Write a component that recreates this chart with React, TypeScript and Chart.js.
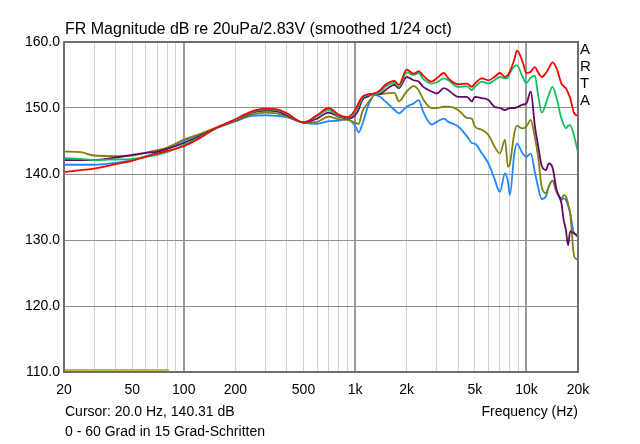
import React, { useEffect, useRef } from "react";
import { Chart, registerables } from "chart.js";

Chart.register(...registerables);

// Frequencies (Hz) shared by all measured curves
const FREQ = [20, 25, 30, 40, 50, 60, 70, 80, 100, 125, 150, 200, 250, 300, 350, 400, 500, 600, 700, 800, 900, 1000, 1050, 1100, 1200, 1300, 1400, 1500, 1700, 1800, 2000, 2200, 2350, 2500, 2800, 3000, 3300, 3500, 4000, 4500, 4800, 5000, 5500, 6000, 6500, 7000, 7500, 7800, 8000, 8500, 8800, 9500, 10000, 10600, 11200, 11700, 12300, 13000, 13500, 14200, 15000, 16000, 16500, 17000, 17500, 18000, 19000, 20000];

// dB values, 0 / 15 / 30 / 45 / 60 degrees
const DEG0 = [140.3, 140.6, 140.8, 141.5, 142.0, 142.6, 143.1, 143.5, 144.2, 145.5, 146.8, 148.3, 149.5, 149.9, 149.8, 149.2, 147.8, 148.9, 150.0, 149.0, 148.6, 149.7, 150.8, 151.7, 152.1, 152.2, 152.7, 153.5, 154.1, 153.5, 155.8, 155.2, 155.6, 154.9, 154.0, 154.5, 155.3, 154.5, 153.6, 153.7, 153.2, 153.7, 154.5, 154.2, 154.7, 155.3, 154.7, 155.0, 155.5, 157.3, 158.7, 157.0, 155.3, 155.5, 156.2, 155.4, 154.7, 155.3, 156.0, 156.9, 156.0, 153.7, 153.3, 153.0, 152.3, 151.5, 149.2, 148.8];
const DEG15 = [142.4, 142.3, 142.1, 142.2, 142.3, 142.6, 142.9, 143.3, 144.4, 145.6, 146.8, 148.2, 149.4, 149.8, 149.7, 149.1, 147.8, 148.8, 149.7, 148.8, 148.5, 149.4, 150.4, 151.5, 152.0, 152.1, 152.4, 153.2, 153.8, 153.2, 155.4, 155.0, 155.3, 154.4, 153.7, 153.9, 154.5, 154.2, 153.2, 153.3, 152.7, 153.2, 154.0, 153.7, 154.2, 154.7, 154.5, 154.6, 155.3, 156.3, 156.5, 154.7, 153.8, 154.6, 154.9, 152.0, 149.3, 150.7, 152.0, 153.2, 151.5, 148.4, 147.5, 146.9, 147.3, 147.4, 145.7, 143.3];
const DEG30 = [142.1, 142.1, 142.1, 142.5, 142.9, 143.2, 143.4, 143.8, 144.7, 145.8, 146.8, 148.1, 149.3, 149.6, 149.5, 148.9, 147.8, 148.4, 149.3, 148.7, 148.4, 148.9, 149.8, 151.2, 151.8, 152.2, 152.1, 152.7, 153.5, 153.0, 154.7, 154.2, 154.0, 153.2, 152.5, 152.2, 153.0, 152.7, 151.7, 151.7, 151.0, 151.7, 151.5, 151.2, 150.2, 150.0, 149.7, 149.9, 150.0, 150.0, 150.1, 150.5, 150.7, 152.5, 147.3, 144.3, 141.2, 140.6, 141.6, 141.0, 137.6, 135.6, 133.0, 131.5, 129.2, 131.3, 131.0, 130.5];
const DEG45 = [143.4, 143.3, 142.8, 142.7, 142.8, 143.2, 143.6, 144.0, 145.2, 146.1, 146.9, 148.0, 149.0, 149.3, 149.2, 148.7, 147.8, 147.9, 148.7, 148.3, 148.2, 147.8, 147.6, 149.4, 150.9, 152.0, 152.1, 152.2, 152.3, 151.0, 152.5, 153.3, 152.7, 151.3, 150.0, 150.0, 150.2, 150.2, 149.7, 148.5, 148.4, 147.2, 146.7, 145.9, 144.2, 143.1, 145.2, 141.1, 141.5, 146.2, 147.3, 146.9, 147.2, 148.2, 145.5, 142.6, 138.0, 137.1, 138.1, 139.0, 137.3, 136.3, 136.8, 136.6, 135.5, 134.1, 127.5, 127.0];
const DEG60 = [141.4, 141.4, 141.4, 141.7, 142.1, 142.7, 143.3, 143.9, 145.0, 146.0, 146.8, 148.0, 148.8, 148.9, 148.8, 148.6, 147.8, 147.6, 148.0, 148.1, 148.3, 147.3, 146.3, 147.5, 150.5, 152.0, 151.7, 151.0, 149.7, 149.2, 150.2, 150.7, 151.2, 149.4, 147.5, 147.9, 148.4, 147.9, 147.2, 145.7, 144.7, 144.6, 143.1, 141.6, 139.3, 137.3, 140.1, 138.9, 136.8, 143.1, 144.6, 143.1, 142.6, 143.1, 140.3, 138.0, 136.2, 136.6, 138.1, 139.0, 137.3, 136.1, 136.3, 136.1, 135.2, 134.1, 131.0, 130.8];

// Cursor marker line at the bottom
const CURSOR_FREQ = [20, 82];
const CURSOR_DB = [110.3, 110.3];

const GRID_TICKS = [20, 30, 40, 50, 60, 70, 80, 90, 100, 200, 300, 400, 500, 600, 700, 800, 900, 1000, 2000, 3000, 4000, 5000, 6000, 7000, 8000, 9000, 10000, 20000];
const X_LABELS: Record<number, string> = { 20: "20", 50: "50", 100: "100", 200: "200", 500: "500", 1000: "1k", 2000: "2k", 5000: "5k", 10000: "10k", 20000: "20k" };
const Y_MIN = 110;
const Y_MAX = 160;

const FONT = "'Liberation Sans', Arial, sans-serif";

const pts = (xs: number[], ys: number[]) => xs.map((x, i) => ({ x, y: ys[i] }));

const textPlugin = {
  id: "artaText",
  afterDraw(chart: any) {
    const ctx = chart.ctx;
    const { left, top, right, bottom } = chart.chartArea;
    ctx.save();
    ctx.strokeStyle = "#6e6e6e";
    ctx.lineWidth = 2;
    ctx.strokeRect(left, top, right - left, bottom - top);
    ctx.fillStyle = "#000";
    ctx.textBaseline = "middle";
    ctx.textAlign = "left";
    ctx.font = `16px ${FONT}`;
    ctx.fillText("FR Magnitude dB re 20uPa/2.83V (smoothed 1/24 oct)", 65, 30);
    ctx.font = `14px ${FONT}`;
    ctx.fillText("Cursor: 20.0 Hz, 140.31 dB", 65, 412);
    ctx.fillText("0 - 60 Grad in 15 Grad-Schritten", 65, 432);
    ctx.textAlign = "right";
    ctx.fillText("Frequency (Hz)", 578, 412);
    ctx.textAlign = "left";
    ctx.font = `15px ${FONT}`;
    ["A", "R", "T", "A"].forEach((c, i) => ctx.fillText(c, 580, 50 + i * 17));
    ctx.restore();
  },
};

export default function App() {
  const ref = useRef<HTMLCanvasElement>(null);
  useEffect(() => {
    if (!ref.current) return;
    const mk = (label: string, ys: number[], color: string) => ({
      label,
      data: pts(FREQ, ys),
      borderColor: color,
      borderWidth: 1.8,
      pointRadius: 0,
      fill: false,
      cubicInterpolationMode: "monotone" as const,
    });
    const chart = new Chart(ref.current, {
      type: "line",
      data: {
        datasets: [
          mk("0", DEG0, "#ff0000"),
          mk("15", DEG15, "#10c060"),
          mk("30", DEG30, "#600a64"),
          mk("45", DEG45, "#808010"),
          mk("60", DEG60, "#1e88ff"),
          {
            label: "cursor",
            data: pts(CURSOR_FREQ, CURSOR_DB),
            borderColor: "#bcbc2c",
            borderWidth: 2,
            pointRadius: 0,
            fill: false,
          },
        ],
      },
      options: {
        animation: false,
        responsive: false,
        layout: { padding: { top: 42, right: 62, bottom: 0, left: 0 } },
        plugins: { legend: { display: false }, tooltip: { enabled: false }, title: { display: false } },
        scales: {
          x: {
            type: "logarithmic",
            min: 20,
            max: 20000,
            afterBuildTicks: (scale: any) => {
              scale.ticks = GRID_TICKS.map((v) => ({ value: v }));
            },
            afterFit: (scale: any) => {
              scale.height = 72;
            },
            ticks: {
              autoSkip: false,
              maxRotation: 0,
              padding: 10,
              color: "#000",
              font: { family: FONT, size: 14 },
              callback: (v: any) => X_LABELS[Number(v)] ?? "",
            },
            grid: {
              drawTicks: false,
              color: (c: any) => {
                const v = c.tick?.value;
                return v === 100 || v === 1000 || v === 10000 ? "#9a9a9a" : "#d2d2d2";
              },
              lineWidth: (c: any) => {
                const v = c.tick?.value;
                return v === 100 || v === 1000 || v === 10000 ? 2 : 1;
              },
            },
            border: { display: false },
          },
          y: {
            min: Y_MIN,
            max: Y_MAX,
            afterFit: (scale: any) => {
              scale.width = 64;
            },
            ticks: {
              stepSize: 10,
              padding: 4,
              color: "#000",
              font: { family: FONT, size: 14 },
              callback: (v: any) => Number(v).toFixed(1),
            },
            grid: { drawTicks: false, color: "#8e8e8e", lineWidth: 1 },
            border: { display: false },
          },
        },
      },
      plugins: [textPlugin],
    });
    return () => chart.destroy();
  }, []);
  return (
    <div style={{ position: "fixed", left: 0, top: 0, width: 640, height: 444, background: "#fff" }}>
      <canvas ref={ref} width={640} height={444} style={{ width: 640, height: 444 }} />
    </div>
  );
}
